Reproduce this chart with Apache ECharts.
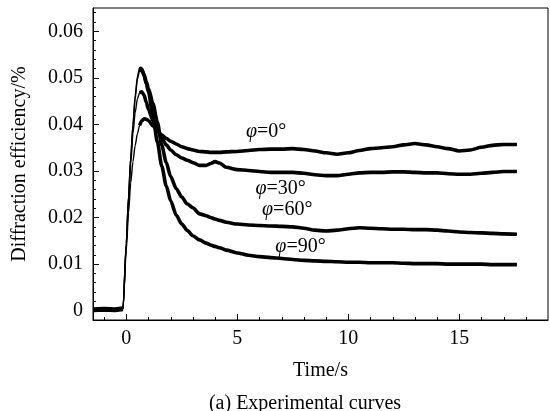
<!DOCTYPE html>
<html>
<head>
<meta charset="utf-8">
<script src="https://cdn.jsdelivr.net/npm/echarts@6/dist/echarts.min.js"></script>
<style>html,body{margin:0;padding:0;background:#fff}#c{width:550px;height:411px}</style>
</head>
<body>
<div id="c"></div>
<script>
// ---- data ----
var time = [-1.5, -1.0, -0.5, -0.15, 0, 0.1, 0.2, 0.3, 0.4, 0.5, 0.6, 0.7, 0.8, 0.9, 1.0, 1.2, 1.4, 1.6, 1.8, 2.0, 2.25, 2.5, 2.75, 3.0, 3.3, 3.6, 3.8, 4.0, 4.2, 4.5, 5.0, 5.5, 6.0, 6.5, 7.0, 7.5, 8.0, 8.5, 9.0, 9.5, 10.0, 10.5, 11.0, 11.5, 12.0, 12.5, 13.0, 13.5, 14.0, 14.5, 15.0, 15.5, 16.0, 16.5, 17.0, 17.6];

var phi0 = [0.0002, 0.0003, 0.0002, 0.0004, 0.013, 0.021, 0.0275, 0.032, 0.0355, 0.038, 0.0398, 0.0408, 0.0412, 0.0411, 0.0408, 0.0397, 0.0386, 0.0377, 0.0370, 0.0364, 0.0358, 0.0352, 0.0348, 0.0345, 0.0342, 0.0341, 0.0340, 0.0340, 0.0340, 0.0341, 0.0342, 0.0344, 0.0346, 0.0347, 0.0347, 0.0348, 0.0346, 0.0343, 0.0339, 0.0336, 0.0339, 0.0344, 0.0348, 0.0350, 0.0352, 0.0356, 0.0359, 0.0356, 0.0352, 0.0348, 0.0343, 0.0345, 0.0351, 0.0355, 0.0357, 0.0357];

var phi30 = [0.0002, 0.0003, 0.0002, 0.0004, 0.014, 0.0235, 0.0315, 0.038, 0.0425, 0.0455, 0.0468, 0.0470, 0.0463, 0.0448, 0.0432, 0.0408, 0.0388, 0.0370, 0.0356, 0.0345, 0.0335, 0.0328, 0.0323, 0.0318, 0.0312, 0.0312, 0.0316, 0.0320, 0.0317, 0.0308, 0.0303, 0.0301, 0.0299, 0.0297, 0.0297, 0.0297, 0.0295, 0.0292, 0.0290, 0.0290, 0.0293, 0.0296, 0.0297, 0.0297, 0.0298, 0.0298, 0.0297, 0.0296, 0.0296, 0.0294, 0.0293, 0.0293, 0.0295, 0.0297, 0.0299, 0.0299];

var phi60 = [0.0002, 0.0003, 0.0002, 0.0004, 0.0145, 0.0245, 0.0328, 0.0397, 0.0455, 0.0497, 0.0516, 0.0517, 0.0507, 0.0492, 0.0477, 0.0445, 0.0405, 0.0355, 0.0318, 0.0288, 0.0262, 0.0244, 0.0229, 0.0221, 0.0208, 0.0204, 0.0200, 0.0197, 0.0194, 0.0190, 0.0186, 0.0184, 0.0183, 0.0182, 0.0181, 0.0180, 0.0177, 0.0173, 0.0171, 0.0173, 0.0176, 0.0178, 0.0177, 0.0176, 0.0175, 0.0175, 0.0174, 0.0174, 0.0173, 0.0171, 0.0169, 0.0168, 0.0167, 0.0166, 0.0165, 0.0164];

var phi90 = [0.0002, 0.0003, 0.0002, 0.0004, 0.0145, 0.0245, 0.0330, 0.0400, 0.0462, 0.0503, 0.0522, 0.0519, 0.0505, 0.0487, 0.0470, 0.0418, 0.0362, 0.0310, 0.0268, 0.0236, 0.0205, 0.0186, 0.0172, 0.0161, 0.0152, 0.0145, 0.0141, 0.0138, 0.0135, 0.0130, 0.0124, 0.0119, 0.0116, 0.0114, 0.0112, 0.0110, 0.0108, 0.0107, 0.0106, 0.0105, 0.0104, 0.0104, 0.0103, 0.0103, 0.0103, 0.0102, 0.0101, 0.0101, 0.0101, 0.0100, 0.0100, 0.0100, 0.0100, 0.0099, 0.0099, 0.0099];

var seriesNames = ['0°', '30°', '60°', '90°'];
var xLabelTicks = [0, 5, 10, 15];
var xMinorTicks = [-1, 1, 2, 3, 4, 6, 7, 8, 9, 11, 12, 13, 14, 16, 17, 18];
var yLabelTicks = [0, 0.01, 0.02, 0.03, 0.04, 0.05, 0.06];
var yMinorTicks = [0.002, 0.004, 0.006, 0.008, 0.012, 0.014, 0.016, 0.018, 0.022, 0.024, 0.026, 0.028, 0.032, 0.034, 0.036, 0.038, 0.042, 0.044, 0.046, 0.048, 0.052, 0.054, 0.056, 0.058, 0.062, 0.064];
// label anchor points (data coordinates) for the curve names
var labelAnchors = [[6.3, 0.0385], [6.95, 0.0261], [7.25, 0.0216], [7.85, 0.0137]];

// ---- chart ----
var X_MIN = -1.5, X_MAX = 19, Y_MIN = -0.002, Y_MAX = 0.065;
var FONT = '"Liberation Serif", "Times New Roman", serif';
var FS = 20;
function pairs(vals, from, to) {
  var out = [];
  for (var i = from; i < to; i++) out.push([time[i], vals[i]]);
  return out;
}
var allVals = [phi0, phi30, phi60, phi90];
var plateauStart = 10;   // index of t = 0.6 : noisy band begins
var baselineEnd = 4;     // points before the rise

var series = [];
allVals.forEach(function (vals, k) {
  series.push({
    type: 'line', name: seriesNames[k], data: pairs(vals, 0, time.length),
    xAxisIndex: 0, yAxisIndex: 0,
    showSymbol: false, symbol: 'none',
    smooth: 0.25, smoothMonotone: 'x',
    lineStyle: { color: '#000', width: 1.4 }, z: 3,
    markPoint: {
      symbol: 'circle', symbolSize: 1,
      itemStyle: { color: 'rgba(0,0,0,0)' },
      label: {
        show: true, position: 'inside',
        formatter: '{i|φ}{n|=' + seriesNames[k] + '}',
        rich: {
          i: { fontFamily: FONT, fontSize: FS, fontStyle: 'italic', color: '#000' },
          n: { fontFamily: FONT, fontSize: FS, color: '#000' }
        }
      },
      data: [{ coord: labelAnchors[k] }]
    }
  });
  series.push({
    type: 'line', data: pairs(vals, plateauStart, time.length),
    xAxisIndex: 0, yAxisIndex: 0,
    showSymbol: false, symbol: 'none',
    smooth: 0.25, smoothMonotone: 'x',
    lineStyle: { color: '#000', width: 3.6 }, z: 3
  });
});
series.push({
  type: 'line', data: pairs(phi0, 0, baselineEnd),
  xAxisIndex: 0, yAxisIndex: 0,
  showSymbol: false, symbol: 'none',
  lineStyle: { color: '#000', width: 5 }, z: 3
});

var chart = echarts.init(document.getElementById('c'), null, { renderer: 'canvas' });
chart.setOption({
  animation: false,
  backgroundColor: '#fff',
  title: {
    text: '(a) Experimental curves',
    left: 300, top: 389, textAlign: 'center',
    textStyle: { fontFamily: FONT, fontSize: FS, fontWeight: 'normal', color: '#000' }
  },
  grid: { left: 93, right: 2, top: 8, bottom: 91, show: true, borderColor: '#000', borderWidth: 1 },
  xAxis: {
    type: 'value', min: X_MIN, max: X_MAX, position: 'bottom',
    name: 'Time/s', nameLocation: 'middle', nameGap: 41,
    nameTextStyle: { fontFamily: FONT, fontSize: FS, color: '#000' },
    axisLine: { show: true, onZero: false, lineStyle: { color: '#000', width: 1 } },
    axisTick: { show: false },
    axisLabel: { show: true, customValues: xLabelTicks, margin: 9, fontFamily: FONT, fontSize: FS, color: '#000',
      formatter: function (v) { return String(v); } },
    splitLine: { show: false }
  },
  yAxis: [
    {
      type: 'value', min: Y_MIN, max: Y_MAX, position: 'left',
      name: 'Diffraction efficiency/%', nameLocation: 'middle', nameGap: 63,
      nameTextStyle: { fontFamily: FONT, fontSize: FS, color: '#000' },
      axisLine: { show: true, onZero: false, lineStyle: { color: '#000', width: 1 } },
      axisTick: { show: true, inside: true, length: 6, customValues: yLabelTicks, lineStyle: { color: '#000' } },
      axisLabel: { show: true, customValues: yLabelTicks, margin: 10, fontFamily: FONT, fontSize: FS, color: '#000',
        formatter: function (v) { return v === 0 ? '0' : v.toFixed(2); } },
      splitLine: { show: false }
    },
    {
      type: 'value', min: Y_MIN, max: Y_MAX, position: 'left',
      axisLine: { show: false, onZero: false },
      axisTick: { show: true, inside: true, length: 3, customValues: yMinorTicks, lineStyle: { color: '#000' } },
      axisLabel: { show: false },
      splitLine: { show: false }
    }
  ],
  series: series
});

// bottom-axis ticks (inward), placed through the chart's own x scale
var tickGraphics = [];
function addXTicks(values, len) {
  values.forEach(function (v) {
    var p = chart.convertToPixel({ gridIndex: 0 }, [v, Y_MIN]);
    var px = Math.round(p[0]) + 0.5;
    var py = Math.round(p[1]);
    tickGraphics.push({
      type: 'line', z: 100, silent: true,
      shape: { x1: px, y1: py, x2: px, y2: py - len },
      style: { stroke: '#000', lineWidth: 1 }
    });
  });
}
addXTicks(xLabelTicks, 6);
addXTicks(xMinorTicks, 3);
chart.setOption({ graphic: tickGraphics });
</script>
</body>
</html>
